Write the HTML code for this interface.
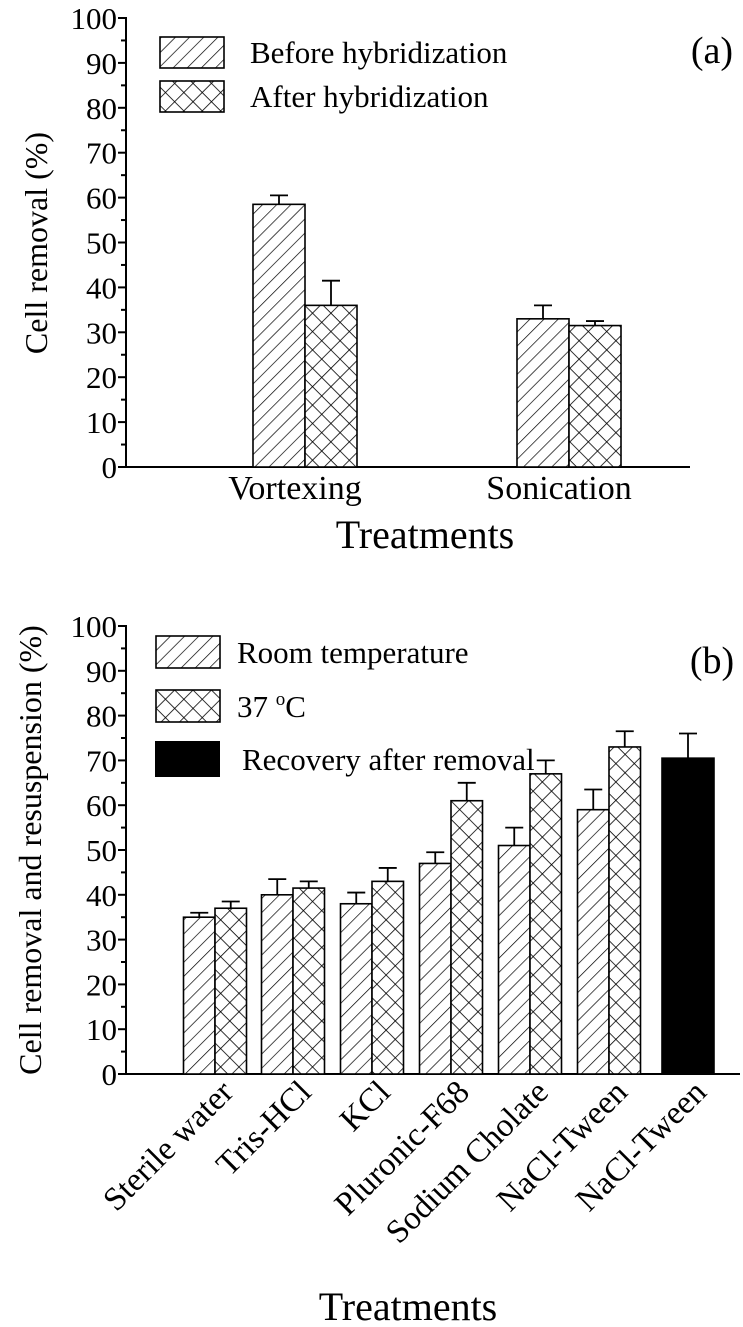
<!DOCTYPE html>
<html><head><meta charset="utf-8"><style>
html,body{margin:0;padding:0;background:#fff;}
svg{display:block;font-family:"Liberation Serif",serif;}
</style></head><body>
<svg id="fig" width="743" height="1327" viewBox="0 0 743 1327">
<defs>
<pattern id="diag" patternUnits="userSpaceOnUse" width="10" height="10" patternTransform="rotate(45)">
<rect width="10" height="10" fill="#fff"/><line x1="0" y1="0" x2="0" y2="10" stroke="#000" stroke-width="1.4"/></pattern>
<pattern id="cross" patternUnits="userSpaceOnUse" width="13" height="13" patternTransform="rotate(45)">
<rect width="13" height="13" fill="#fff"/><line x1="0" y1="0" x2="0" y2="13" stroke="#000" stroke-width="1.6"/><line x1="0" y1="0" x2="13" y2="0" stroke="#000" stroke-width="1.6"/></pattern>
</defs>
<g id="chartA"></g>
<g id="chartB"></g>
</svg>
<script>
const aCategories = ["Vortexing", "Sonication"];
const aBefore = [58.5, 33];
const aBeforeErr = [2, 3];
const aAfter = [36, 31.5];
const aAfterErr = [5.5, 1];
const aTicks = [0,10,20,30,40,50,60,70,80,90,100];

const bCategories = ["Sterile water","Tris-HCl","KCl","Pluronic-F68","Sodium Cholate","NaCl-Tween","NaCl-Tween"];
const bRoom = [35, 40, 38, 47, 51, 59];
const bRoomErr = [1, 3.5, 2.5, 2.5, 4, 4.5];
const b37 = [37, 41.5, 43, 61, 67, 73];
const b37Err = [1.5, 1.5, 3, 4, 3, 3.5];
const bRecovery = [70.5];
const bRecoveryErr = [5.5];
const bTicks = [0,10,20,30,40,50,60,70,80,90,100];

const NS="http://www.w3.org/2000/svg";
function mk(parent, tag, attrs, text){
  const e=document.createElementNS(NS,tag);
  for(const k in attrs) e.setAttribute(k,attrs[k]);
  if(text!==undefined) e.textContent=text;
  parent.appendChild(e); return e;
}
function drawAxis(g, x0, yZero, yTop, xEnd, ticks, yfn){
  let ax=mk(g,'line',{x1:x0,y1:yTop-1,x2:x0,y2:yZero,stroke:'#000','stroke-width':2});
  
  
  let bx=mk(g,'line',{x1:x0,y1:yZero,x2:xEnd,y2:yZero,stroke:'#000','stroke-width':2});
  
  
  for(let i=0;i<ticks.length;i++){
    const y=yfn(ticks[i]);
    let t=mk(g,'line',{x1:x0-8,y1:y,x2:x0,y2:y,stroke:'#000','stroke-width':2});
    
    
    let l=mk(g,'text',{x:x0-9,y:y+11,'text-anchor':'end','font-size':31},ticks[i]);
    
    
    if(i<ticks.length-1){
      const ym=yfn((ticks[i]+ticks[i+1])/2);
      let m=mk(g,'line',{x1:x0-5,y1:ym,x2:x0,y2:ym,stroke:'#000','stroke-width':2});
      
      
    }
  }
}
function bar(g, x, w, yZero, yTop, fill, yErrTop, name){
  let r=mk(g,'rect',{x:x,y:yTop,width:w,height:yZero-yTop,fill:fill,stroke:'#000','stroke-width':1.6});
  
  
  const cx=x+w/2;
  let e=mk(g,'path',{d:`M${cx},${yTop}V${yErrTop}M${cx-9},${yErrTop}H${cx+9}`,stroke:'#000','stroke-width':1.8,fill:'none'});
  
  
}

// Chart A
(function(){
  const g=document.getElementById('chartA');
  const yZero=467, yTop=18, x0=126;
  const y=v=>yZero-(yZero-yTop)*v/100;
  const centers=[305,569], w=52;
  drawAxis(g,x0,yZero,yTop,690,aTicks,y);
  for(let i=0;i<aCategories.length;i++){
    bar(g,centers[i]-w,w,yZero,y(aBefore[i]),'url(#diag)',y(aBefore[i]+aBeforeErr[i]),'bar-before-'+i);
    bar(g,centers[i],w,yZero,y(aAfter[i]),'url(#cross)',y(aAfter[i]+aAfterErr[i]),'bar-after-'+i);
    let l=mk(g,'text',{x:centers[i]-10,y:499,'text-anchor':'middle','font-size':34},aCategories[i]);
    
    
  }
})();
// Chart B
(function(){
  const g=document.getElementById('chartB');
  const yZero=1074, yTop=626, x0=126;
  const y=v=>yZero-(yZero-yTop)*v/100;
  const centers=[215,293,372,451,530,609,688], w=31.5;
  drawAxis(g,x0,yZero,yTop,740,bTicks,y);
  for(let i=0;i<bRoom.length;i++){
    bar(g,centers[i]-w,w,yZero,y(bRoom[i]),'url(#diag)',y(bRoom[i]+bRoomErr[i]),'bar-room-'+i);
    bar(g,centers[i],w,yZero,y(b37[i]),'url(#cross)',y(b37[i]+b37Err[i]),'bar-37c-'+i);
  }
  bar(g,centers[6]-26,52,yZero,y(bRecovery[0]),'#000',y(bRecovery[0]+bRecoveryErr[0]),'bar-recovery');
  for(let i=0;i<bCategories.length;i++){
    const tx=centers[i]+20, ty=1094;
    let l=mk(g,'text',{x:tx,y:ty,'text-anchor':'end','font-size':33,transform:`rotate(-45 ${tx} ${ty})`},bCategories[i]);
    
    
  }
})();
</script>
<svg width="743" height="1327" style="position:absolute;left:0;top:0;font-family:'Liberation Serif',serif">
<text x="47" y="243" font-size="32" text-anchor="middle" transform="rotate(-90 47 243)">Cell removal (%)</text>
<text x="425" y="548" font-size="40" text-anchor="middle">Treatments</text>
<text x="712" y="63" font-size="38" text-anchor="middle">(a)</text>
<g>
<rect x="160" y="37" width="64" height="31" fill="url(#diag)" stroke="#000" stroke-width="1.6"/>
<text x="250" y="63" font-size="31">Before hybridization</text>
<rect x="160" y="81" width="64" height="31" fill="url(#cross)" stroke="#000" stroke-width="1.6"/>
<text x="250" y="107" font-size="31">After hybridization</text>
</g>
<text x="41" y="850" font-size="32" text-anchor="middle" transform="rotate(-90 41 850)">Cell removal and resuspension (%)</text>
<text x="408" y="1320" font-size="40" text-anchor="middle">Treatments</text>
<text x="712" y="673" font-size="38" text-anchor="middle">(b)</text>
<g>
<rect x="156" y="636" width="64" height="32" fill="url(#diag)" stroke="#000" stroke-width="1.6"/>
<text x="237" y="663" font-size="31">Room temperature</text>
<rect x="156" y="690" width="64" height="32" fill="url(#cross)" stroke="#000" stroke-width="1.6"/>
<text x="237" y="717" font-size="31">37 <tspan dy="-12" font-size="19">o</tspan><tspan dy="12">C</tspan></text>
<rect x="155" y="741" width="65" height="36" fill="#000"/>
<text x="242" y="770" font-size="31">Recovery after removal</text>
</g>
</svg>
</body></html>
